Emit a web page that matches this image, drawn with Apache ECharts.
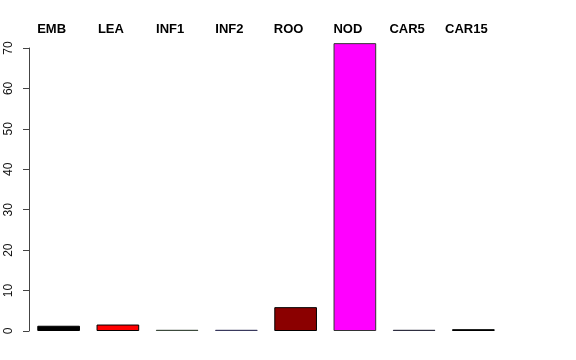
<!DOCTYPE html>
<html><head><meta charset="utf-8">
<script src="https://cdn.jsdelivr.net/npm/echarts@6/dist/echarts.min.js"></script>
<style>html,body{margin:0;padding:0;background:#fff}#c{width:576px;height:360px}</style>
</head><body><div id="c"></div>
<script>
var categories = ['EMB','LEA','INF1','INF2','ROO','NOD','CAR5','CAR15'];
var values = [1.3, 1.6, 0.3, 0.3, 5.9, 71.2, 0.3, 0.45];
var fillColors = ['#000000','#ff0000','#3c4a3c','#3a3a5e','#8b0000','#ff00ff','#2e2e40','#1e2a1e'];
var borderColors = ['#000000','#000000','#3c4a3c','#3a3a5e','#000000','#333333','#2e2e40','#000000'];
var yTicks = [0,10,20,30,40,50,60,70];

var chart = echarts.init(document.getElementById('c'), null, {renderer:'canvas'});
chart.setOption({
  animation: false,
  backgroundColor: '#ffffff',
  grid: {left: 29, top: 48, width: 474, height: 283, containLabel: false},
  xAxis: {
    type: 'category', position: 'top', data: categories,
    axisLine: {show: false}, axisTick: {show: false},
    axisLabel: {margin: 12, fontFamily: 'Liberation Sans, Arial, sans-serif', fontWeight: 'bold', fontSize: 13, color: '#000', padding: [0, 14, 0, 0], interval: 0}
  },
  yAxis: {
    type: 'value', min: 0, max: 70, interval: 10,
    splitLine: {show: false},
    axisLine: {show: true, lineStyle: {color: '#444', width: 1}},
    axisTick: {show: true, length: 6, lineStyle: {color: '#444'}},
    axisLabel: {rotate: 90, margin: 14, fontFamily: 'Liberation Sans, Arial, sans-serif', fontSize: 12, color: '#111',
      formatter: function(v){ return yTicks.indexOf(v) >= 0 ? String(v) : ''; }}
  },
  series: [{
    type: 'bar', clip: false, barCategoryGap: '28%',
    data: values.map(function(v, i){
      return {value: v, itemStyle: {color: fillColors[i], borderColor: borderColors[i], borderWidth: 1}};
    })
  }]
});
</script></body></html>
